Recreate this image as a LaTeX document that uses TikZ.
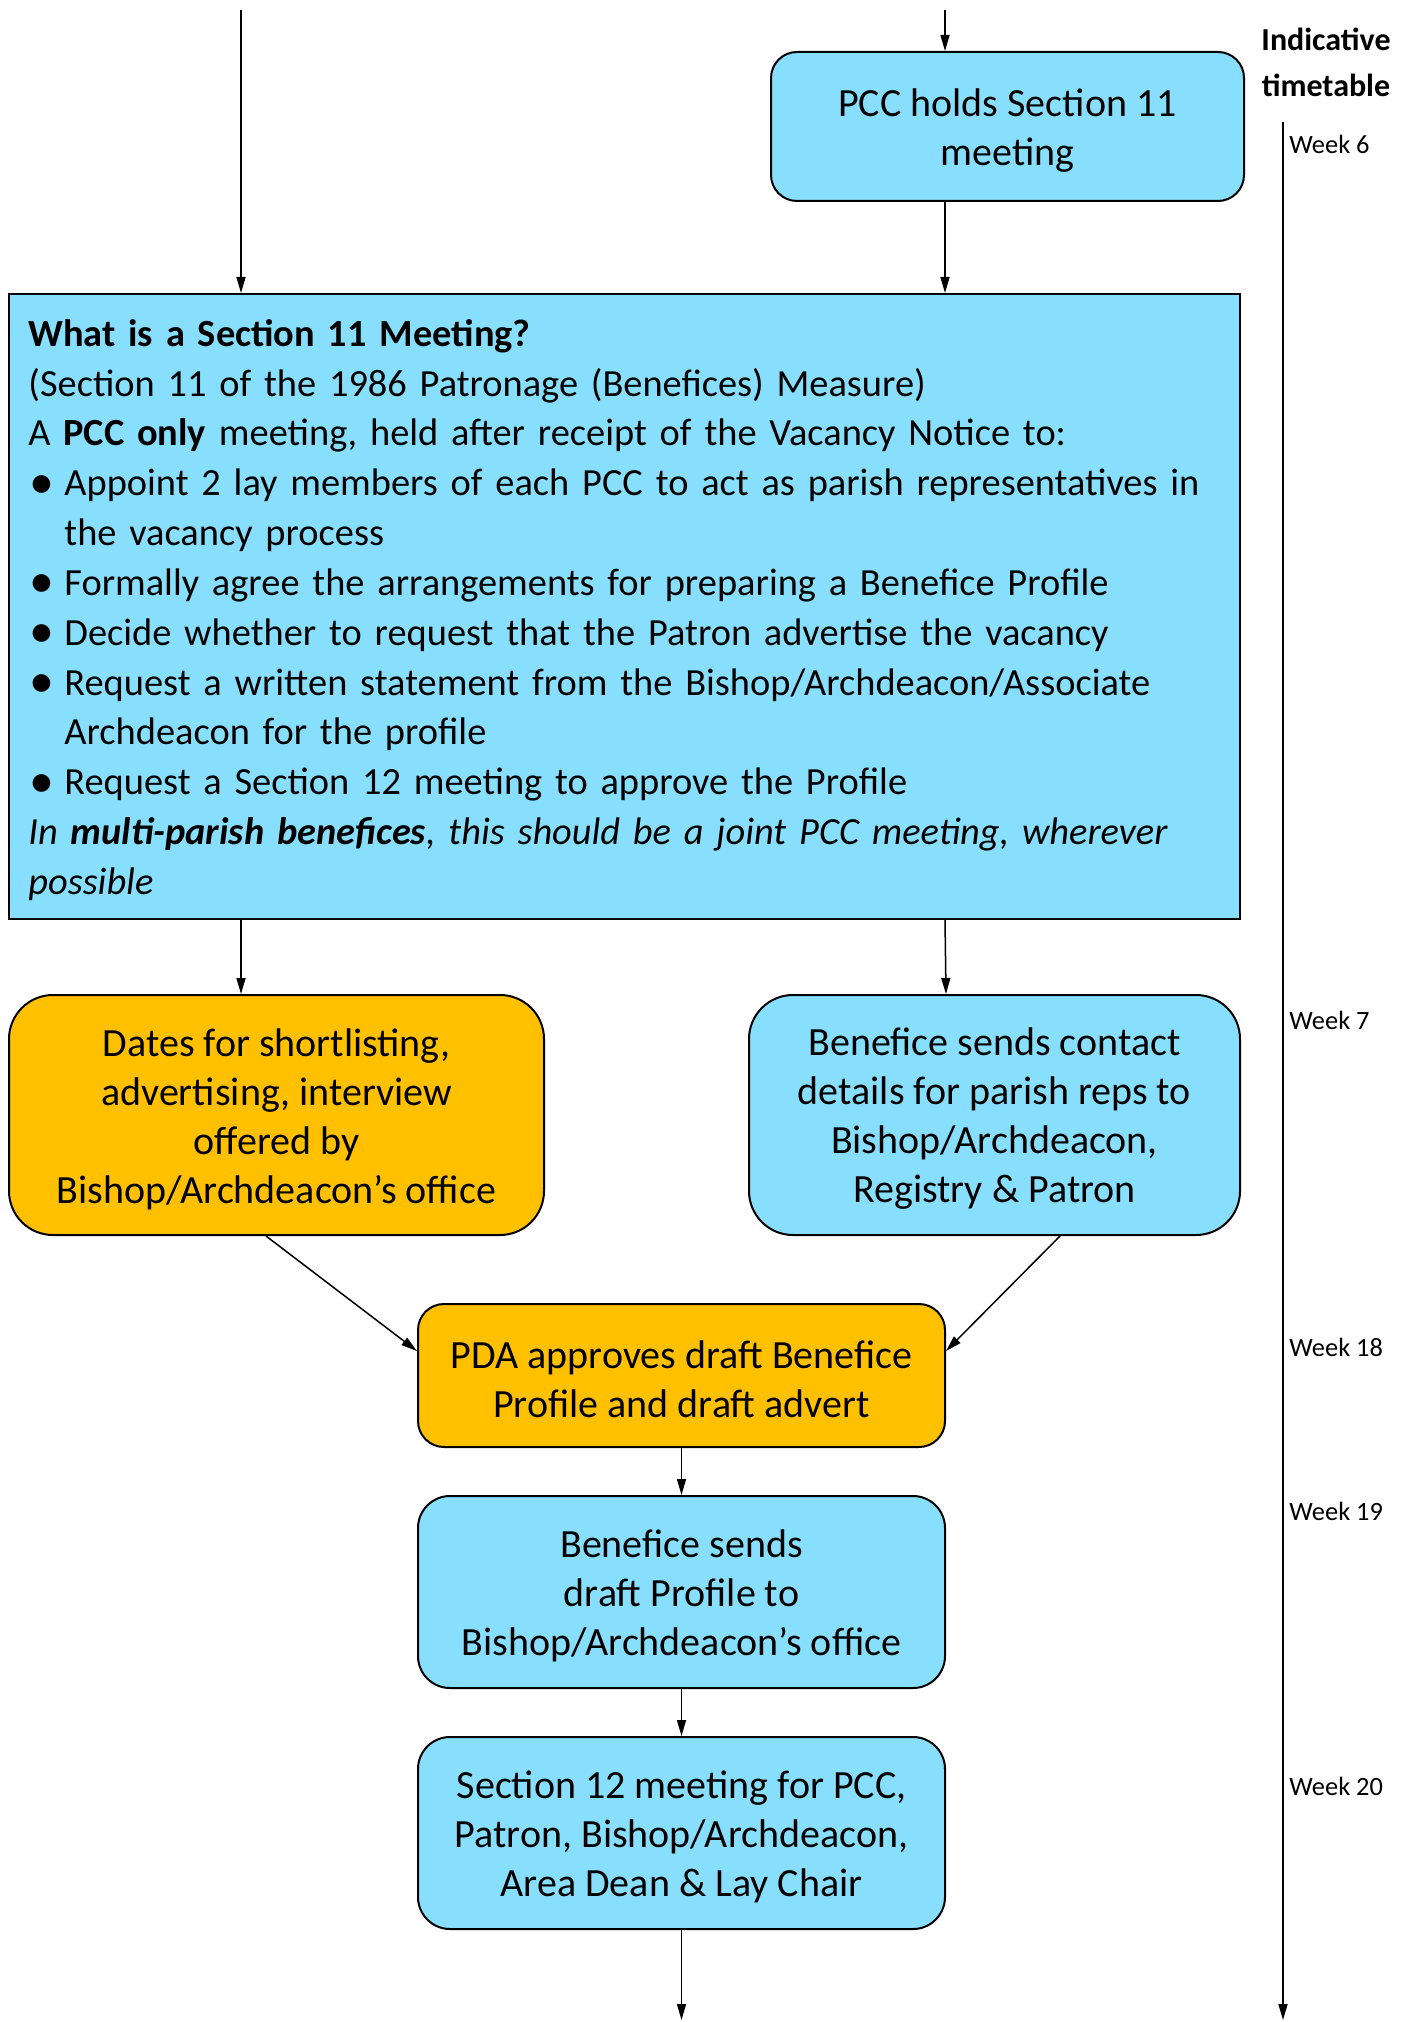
\documentclass[tikz,border=0pt]{standalone}
\usepackage{fontspec}
\usepackage{graphicx}
\setmainfont{Carlito}
\usetikzlibrary{arrows.meta}
\definecolor{boxblue}{RGB}{135,222,253}
\definecolor{boxgold}{RGB}{255,192,0}
\newcommand{\bitem}{\makebox[18pt][l]{\hspace{0.5pt}\raisebox{-1.2pt}{\scalebox{1.3}{\textbullet}}}}
\newcommand{\bcont}{\hspace*{18pt}}
\begin{document}
\begin{tikzpicture}[x=0.5pt,y=-0.5pt,
 box/.style={draw=black,line width=1pt,inner sep=0pt},
 boxtext/.style={align=center,inner sep=0pt,font=\fontsize{20}{24.5}\selectfont,yshift=-2pt},
 bluebox/.style={box,fill=boxblue},
 goldbox/.style={box,fill=boxgold},
 arr/.style={line width=0.75pt,-{Triangle[length=8pt,width=4.5pt]}},
 week/.style={anchor=west,inner sep=0pt,font=\fontsize{13.2}{15}\selectfont}]
\useasboundingbox (0,0) rectangle (1408,2022);

\node[bluebox,rounded corners=13pt,minimum width=236.5pt,minimum height=74.5pt,
  label={[boxtext]center:{PCC holds Section 11\\meeting}}] (pcc) at (1007.5,126.5) {};

\node[draw=black,fill=boxblue,line width=1pt,minimum width=615.5pt,minimum height=312.5pt,inner sep=0pt] (info) at (624.5,606.5) {};
\node[anchor=north west,inner sep=0pt,text width=610pt,align=left,font=\fontsize{19.2}{24.9}\selectfont] (infotext) at (28,319) {%
\textbf{What is a Section 11 Meeting?}\\
(Section 11 of the 1986 Patronage (Benefices) Measure)\\
A \textbf{PCC only} meeting, held after receipt of the Vacancy Notice to:\\
\bitem Appoint 2 lay members of each PCC to act as parish representatives in\\
\bcont the vacancy process\\
\bitem Formally agree the arrangements for preparing a Benefice Profile\\
\bitem Decide whether to request that the Patron advertise the vacancy\\
\bitem Request a written statement from the Bishop/Archdeacon/Associate\\
\bcont Archdeacon for the profile\\
\bitem Request a Section 12 meeting to approve the Profile\\
\textit{In \textbf{multi-parish benefices}, this should be a joint PCC meeting, wherever}\\
\textit{possible}};

\node[goldbox,rounded corners=22pt,minimum width=267.5pt,minimum height=120pt,
  label={[boxtext]center:{Dates for shortlisting,\\advertising, interview\\offered by\\Bishop/Archdeacon’s office}}] (dates) at (276.5,1115) {};
\node[bluebox,rounded corners=22pt,minimum width=245.5pt,minimum height=120pt,
  label={[boxtext]center:{Benefice sends contact\\details for parish reps to\\Bishop/Archdeacon,\\Registry \& Patron}}] (contact) at (994.5,1115) {};
\node[goldbox,rounded corners=13pt,minimum width=263.5pt,minimum height=71.5pt,
  label={[boxtext]center:{PDA approves draft Benefice\\Profile and draft advert}}] (pda) at (681.5,1375.5) {};
\node[bluebox,rounded corners=16pt,minimum width=263.5pt,minimum height=96pt,
  label={[boxtext]center:{Benefice sends\\draft Profile to\\Bishop/Archdeacon’s office}}] (sends) at (681.5,1592) {};
\node[bluebox,rounded corners=16pt,minimum width=263.5pt,minimum height=96pt,
  label={[boxtext]center:{Section 12 meeting for PCC,\\Patron, Bishop/Archdeacon,\\Area Dean \& Lay Chair}}] (s12) at (681.5,1833) {};

\node[align=center,inner sep=0pt,font=\fontsize{16}{23}\selectfont\bfseries] (ind) at (1326,62) {Indicative\\timetable};
\node[week] (w6) at (1289,144) {Week 6};
\node[week] (w7) at (1289,1020) {Week 7};
\node[week] (w18) at (1289,1347) {Week 18};
\node[week] (w19) at (1289,1511) {Week 19};
\node[week] (w20) at (1289,1786) {Week 20};

\coordinate (t1) at (241,10);
\coordinate (t2) at (945,10);
\coordinate (t3) at (946,0);
\coordinate (d1) at (266,0);
\coordinate (d2) at (0,1351);
\coordinate (d3) at (1060,0);
\coordinate (bot) at (681.5,2020);
\coordinate (tl1) at (1283,122);
\coordinate (tl2) at (1283,2020);

\draw[arr] (t1) -- (t1 |- info.north);
\draw[arr] (t2) -- (t2 |- pcc.north);
\draw[arr] (t2 |- pcc.south) -- (t2 |- info.north);
\draw[arr] (t1 |- info.south) -- (t1 |- dates.north);
\draw[arr] (t2 |- info.south) -- (t3 |- contact.north);
\draw[arr] (d1 |- dates.south) -- (pda.west |- d2);
\draw[arr] (d3 |- contact.south) -- (pda.east |- d2);
\draw[arr] (pda.south) -- (sends.north);
\draw[arr] (sends.south) -- (s12.north);
\draw[arr] (s12.south) -- (bot);
\draw[arr] (tl1) -- (tl2);
\end{tikzpicture}
\end{document}
